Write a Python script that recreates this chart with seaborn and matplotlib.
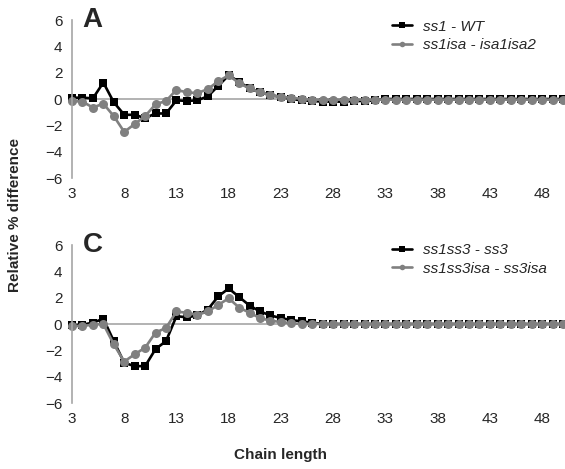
import matplotlib
matplotlib.use('Agg')
import matplotlib.pyplot as plt
import seaborn as sns
import pandas as pd

# chain lengths (DP 3..50)
chain = [3, 4, 5, 6, 7, 8, 9, 10, 11, 12, 13, 14, 15, 16, 17, 18, 19, 20, 21, 22, 23, 24, 25, 26,
         27, 28, 29, 30, 31, 32, 33, 34, 35, 36, 37, 38, 39, 40, 41, 42, 43, 44, 45, 46, 47, 48, 49, 50]

# panel A
a_ss1_wt = [0.1, 0.1, 0.05, 1.25, -0.25, -1.2, -1.2, -1.45, -1.1, -1.1, -0.1, -0.15, -0.1, 0.2, 1.0, 1.8,
            1.3, 0.8, 0.5, 0.3, 0.15, 0.0, -0.1, -0.15, -0.2, -0.2, -0.2, -0.15, -0.15, -0.1, 0.0, 0.0,
            0.0, 0.0, 0.0, 0.0, 0.0, 0.0, 0.0, 0.0, 0.0, 0.0, 0.0, 0.0, 0.0, 0.0, 0.0, 0.0]
a_ss1isa = [-0.15, -0.2, -0.65, -0.35, -1.3, -2.5, -1.9, -1.3, -0.4, -0.15, 0.7, 0.5, 0.45, 0.75, 1.35, 1.8,
            1.2, 0.8, 0.5, 0.3, 0.15, 0.1, 0.0, -0.05, -0.05, -0.05, -0.05, -0.05, -0.05, -0.05, -0.05, -0.05,
            -0.05, -0.05, -0.05, -0.05, -0.05, -0.05, -0.05, -0.05, -0.05, -0.05, -0.05, -0.05, -0.05, -0.05, -0.05, -0.05]

# panel C
c_ss1ss3 = [-0.1, -0.05, 0.1, 0.4, -1.3, -2.95, -3.2, -3.2, -1.9, -1.3, 0.6, 0.5, 0.65, 1.1, 2.1, 2.7,
            2.05, 1.4, 0.95, 0.65, 0.45, 0.3, 0.2, 0.1, 0.0, 0.0, 0.0, 0.0, 0.0, 0.0, 0.0, 0.0,
            0.0, 0.0, 0.0, 0.0, 0.0, 0.0, 0.0, 0.0, 0.0, 0.0, 0.0, 0.0, 0.0, 0.0, 0.0, 0.0]
c_ss1ss3isa = [-0.15, -0.15, -0.05, 0.0, -1.55, -2.85, -2.3, -1.8, -0.65, -0.3, 0.95, 0.85, 0.7, 0.95, 1.45, 1.95,
               1.25, 0.85, 0.45, 0.25, 0.15, 0.05, 0.0, 0.0, 0.0, 0.0, 0.0, 0.0, 0.0, 0.0, 0.0, 0.0,
               0.0, 0.0, 0.0, 0.0, 0.0, 0.0, 0.0, 0.0, 0.0, 0.0, 0.0, 0.0, 0.0, 0.0, 0.0, 0.0]

xticks = [3, 8, 13, 18, 23, 28, 33, 38, 43, 48]
yticks = [-6, -4, -2, 0, 2, 4, 6]

sns.set_style('white')
plt.rcParams['font.family'] = ['Liberation Sans', 'DejaVu Sans']

AX_GRAY = '#a6a6a6'
SERIES_GRAY = '#808080'

fig = plt.figure(figsize=(5.65, 4.69), dpi=100)
ax_a = fig.add_axes([72 / 565, 1 - 178 / 469, 491 / 565, 158 / 469])
ax_c = fig.add_axes([72 / 565, 1 - 403 / 469, 491 / 565, 158 / 469])


def draw_panel(ax, s1, s2, name1, name2, letter, leg_y):
    df = pd.DataFrame({'chain': chain * 2,
                       'diff': s1 + s2,
                       'series': [name1] * len(chain) + [name2] * len(chain)})
    sns.lineplot(data=df, x='chain', y='diff', hue='series', style='series',
                 palette=['black', SERIES_GRAY], markers=['s', 'o'], dashes=False,
                 markersize=6.5, markeredgewidth=0, linewidth=1.9, ax=ax, clip_on=False)
    # squares read a bit smaller than the circles
    for ln in ax.lines:
        if ln.get_marker() == 's':
            ln.set_markersize(5.6)
    ax.set_xlim(3, 50)
    ax.set_ylim(-6, 6)
    ax.set_xticks(xticks)
    ax.set_yticks(yticks)
    ax.set_xlabel('')
    ax.set_ylabel('')
    for s in ['top', 'right']:
        ax.spines[s].set_visible(False)
    ax.spines['left'].set_color(AX_GRAY)
    ax.spines['left'].set_linewidth(1.2)
    ax.spines['bottom'].set_position(('data', 0))
    ax.spines['bottom'].set_color(AX_GRAY)
    ax.spines['bottom'].set_linewidth(1.2)
    ax.spines['bottom'].set_zorder(0)
    ax.tick_params(axis='y', direction='out', length=4, width=1, color=AX_GRAY,
                   labelsize=11, pad=3)
    ax.tick_params(axis='x', direction='out', length=4, width=1, color=AX_GRAY,
                   labelsize=11, pad=59)
    ax.text(0.022, 1.0, letter, transform=ax.transAxes, fontsize=20, fontweight='bold',
            va='center', ha='left')
    leg = ax.legend(loc='upper left', bbox_to_anchor=(0.64, leg_y), frameon=False,
                    prop={'style': 'italic', 'size': 11}, handlelength=1.3,
                    handletextpad=0.7, labelspacing=0.3, borderaxespad=0)
    for h in leg.legend_handles:
        h.set_markersize(4)


draw_panel(ax_a, a_ss1_wt, a_ss1isa, 'ss1 - WT', 'ss1isa - isa1isa2', 'A', 1.04)
draw_panel(ax_c, c_ss1ss3, c_ss1ss3isa, 'ss1ss3 - ss3', 'ss1ss3isa - ss3isa', 'C', 1.05)

fig.text(15 / 565, 1 - 215 / 469, 'Relative % difference', rotation=90, fontsize=11,
         fontweight='bold', ha='center', va='center')
fig.text(281 / 565, 1 - 455 / 469, 'Chain length', fontsize=11, fontweight='bold',
         ha='center', va='center')

fig.savefig('out.png', dpi=100)
